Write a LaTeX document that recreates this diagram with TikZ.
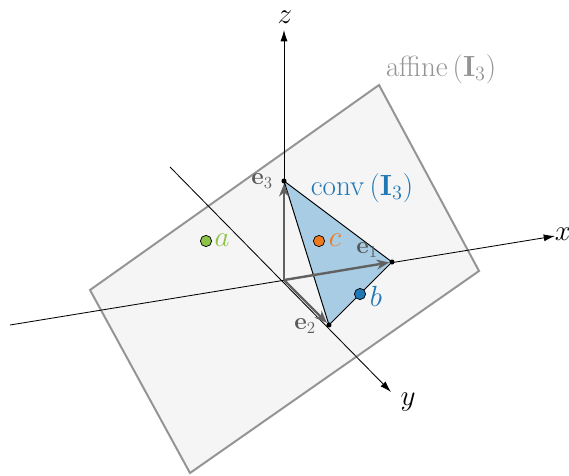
\documentclass[tikz,border=0pt]{standalone}
\usepackage{amsmath}
\usetikzlibrary{arrows.meta}
\definecolor{tabblue}{RGB}{31,119,180}
\definecolor{taborange}{RGB}{240,120,30}
\definecolor{tabgreen}{RGB}{140,195,70}
\definecolor{hullblue}{RGB}{168,204,228}
\begin{document}
\begin{tikzpicture}[x=0.025cm,y=-0.025cm,
  axis/.style={-{Latex[length=8pt,width=5pt]},line width=.6pt},
  basis/.style={-{Stealth[length=9pt,width=7pt]},black!62,line width=1.7pt},
  vert/.style={circle,fill=black,inner sep=0pt,minimum size=3.6pt},
  pt/.style={circle,draw=black,line width=.5pt,inner sep=0pt,minimum size=8pt},
  elabel/.style={text=black!65,font=\LARGE},
  lbl/.style={font=\huge}]
\useasboundingbox (0,0) rectangle (569,475);
% affine hull
\path[fill=black!4,draw=black!42,line width=1.4pt] (90,290) -- (379,85) -- (479,271) -- (190,473) -- cycle;
\node[text=black!42,font=\huge] (affine) at (441,69) {$\operatorname{affine}\left(\mathbf{I}_3\right)$};
% axes
\coordinate (O) at (284,280);
\coordinate (xs) at (10,325);
\coordinate (xe) at (555,236);
\coordinate (ys) at (170,167);
\coordinate (ye) at (391,392);
\coordinate (ze) at (284,30);
\draw[axis] (xs) -- (xe);
\draw[axis] (ys) -- (ye);
\draw[axis] (O) -- (ze);
\node[lbl] (xlab) at (563,234) {$x$};
\node[lbl] (ylab) at (408,402) {$y$};
\node[lbl] (zlab) at (285,17) {$z$};
% convex hull
\coordinate (e1) at (392,262);
\coordinate (e2) at (329,325);
\coordinate (e3) at (284,181);
\path[fill=hullblue,draw=black,line width=.7pt] (e1) -- (e2) -- (e3) -- cycle;
\node[text=tabblue,font=\huge] (conv) at (362,188) {$\operatorname{conv}\left(\mathbf{I}_3\right)$};
\draw[basis,shorten >=2pt] (O) -- (e1);
\draw[basis,shorten >=2pt] (O) -- (e2);
\draw[basis,shorten >=2pt] (O) -- (e3);
\node[vert] (v1) at (e1) {};
\node[vert] (v2) at (e2) {};
\node[vert] (v3) at (e3) {};
\node[elabel] (e1lab) at (367,250) {$\mathbf{e}_1$};
\node[elabel] (e2lab) at (305,326) {$\mathbf{e}_2$};
\node[elabel] (e3lab) at (262,181) {$\mathbf{e}_3$};
% points
\node[pt,fill=tabgreen] (a) at (206,241) {};
\node[text=tabgreen,font=\huge] (alab) at (222,240) {$a$};
\node[pt,fill=taborange] (c) at (319,241) {};
\node[text=taborange,font=\huge] (clab) at (335,240) {$c$};
\node[pt,fill=tabblue] (b) at (360,294) {};
\node[text=tabblue,font=\huge] (blab) at (376,296) {$b$};
\end{tikzpicture}
\end{document}
